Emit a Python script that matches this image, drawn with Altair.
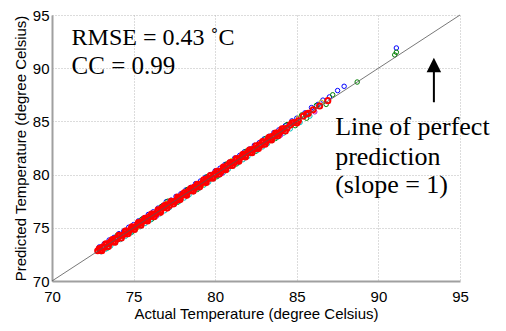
import altair as alt
import pandas as pd

# (actual, predicted) pairs
blue_pts = [(72.9,73.2),(73.2,73.5),(73.5,73.85),(73.8,74.1),(74.1,74.45),(74.4,74.7),(74.7,75.05),(75.0,75.3),
            (75.3,75.65),(75.6,75.9),(75.9,76.25),(76.2,76.5),(76.5,76.85),(76.8,77.1),(77.0,77.45),(77.3,77.6),
            (77.6,77.95),(77.9,78.2),(78.2,78.55),(78.5,78.8),(78.8,79.15),(79.1,79.4),(79.4,79.75),(79.7,80.0),
            (80.0,80.35),(80.3,80.6),(80.6,80.95),(80.9,81.2),(81.2,81.55),(81.5,81.8),(81.8,82.15),(82.1,82.4),
            (82.4,82.75),(82.7,83.0),(83.0,83.35),(83.3,83.6),(83.6,83.95),(83.9,84.2),(84.3,84.6),(84.7,85.05),
            (85.0,85.3),(85.5,85.8),(85.9,86.3),(86.3,86.6),(86.6,87.0),(87.0,87.3),(87.5,87.9),(87.9,88.3),
            (91.1,91.9)]
green_pts = [(73.4,73.1),(74.0,74.3),(74.9,74.6),(75.5,75.8),(76.1,75.8),(76.7,77.0),(77.1,77.5),(77.7,77.4),
             (78.3,78.6),(78.9,78.6),(79.5,79.8),(80.1,79.8),(80.7,81.0),(81.3,81.0),(81.9,82.2),(82.5,82.2),
             (83.1,83.4),(83.7,83.4),(84.4,84.7),(84.9,84.6),(85.3,85.6),(85.6,85.3),(86.2,86.5),(86.8,86.6),
             (87.2,87.5),(88.7,88.7),(91.1,91.5),(91.0,91.25)]
cyan_pts = [(73.0,72.75),(73.3,73.0),(73.6,73.3),(73.9,73.6),(74.2,73.9),(74.5,74.2),(74.8,74.5),(75.1,74.8),
            (75.4,75.1),(75.7,75.4),(76.0,75.7),(76.3,76.0),(76.6,76.3),(76.9,76.6),(77.2,76.9),(77.5,77.2),
            (77.8,77.5),(78.1,77.8),(78.4,78.1),(78.7,78.4),(79.0,78.7),(79.3,79.0),(79.6,79.3),(79.9,79.6),
            (80.2,79.9),(80.5,80.2),(80.8,80.5),(81.1,80.8),(81.4,81.1),(81.7,81.4),(82.0,81.7),(82.3,82.0),
            (82.6,82.3),(82.9,82.6),(83.2,82.9),(83.5,83.2),(83.8,83.5),(84.2,83.9),(84.6,84.3),(85.2,84.9),
            (85.8,85.5)]
magenta_pts = [(76.4,76.1),(80.4,80.1),(84.0,83.7),(86.1,85.9)]
yellow_pts = [(75.2,75.0),(77.0,77.3),(79.2,79.0),(81.0,81.3),(83.4,83.2),(85.1,85.3),(86.5,86.8)]
red_pts = [(72.8,72.85),(72.95,72.9),(73.1,73.2),(73.2,73.15),(73.35,73.45),(73.5,73.5),(73.6,73.7),(73.75,73.7),
           (73.9,74.0),(74.0,73.95),(74.15,74.25),(74.3,74.3),(74.45,74.4),(74.55,74.7),(74.7,74.65),(74.85,74.95),
           (75.0,75.05),(75.1,75.05),(75.25,75.35),(75.4,75.4),(75.55,75.6),(75.65,75.75),(75.8,75.75),(75.95,76.05),
           (76.1,76.1),(76.2,76.3),(76.35,76.3),(76.5,76.6),(76.65,76.6),(76.75,76.85),(76.9,76.9),(77.05,77.15),
           (77.2,77.1),(77.3,77.4),(77.45,77.45),(77.6,77.55),(77.75,77.85),(77.85,77.8),(78.0,78.1),(78.15,78.1),
           (78.3,78.35),(78.4,78.5),(78.55,78.5),(78.7,78.8),(78.85,78.8),(78.95,79.05),(79.1,79.1),(79.25,79.3),
           (79.4,79.35),(79.5,79.6),(79.65,79.65),(79.8,79.75),(79.95,80.05),(80.05,80.0),(80.2,80.3),(80.35,80.3),
           (80.5,80.6),(80.6,80.55),(80.75,80.85),(80.9,80.85),(81.05,81.15),(81.15,81.1),(81.3,81.4),(81.45,81.4),
           (81.6,81.65),(81.7,81.8),(81.85,81.8),(82.0,82.1),(82.15,82.1),(82.25,82.35),(82.4,82.4),(82.55,82.5),
           (82.7,82.8),(82.8,82.75),(82.95,83.05),(83.1,83.05),(83.25,83.35),(83.35,83.3),(83.5,83.6),(83.65,83.6),
           (83.8,83.9),(83.9,83.85),(84.05,84.1),(84.2,84.3),(84.4,84.35),(84.6,84.65),(84.8,84.9),(85.1,85.05),
           (85.4,85.5),(85.7,85.75),(86.0,86.1),(86.4,86.45),(86.9,86.95)]
red_edge_pts = [(72.9,73.05),(73.05,72.85),(73.3,73.5),(73.45,73.25),(73.7,73.9),(73.85,73.65),(74.1,74.3),(74.25,74.05),
                (74.5,74.7),(74.65,74.45),(74.9,75.1),(75.05,74.85),(75.3,75.5),(75.45,75.25),(75.7,75.9),(75.85,75.65),
                (76.1,76.3),(76.25,76.05),(76.5,76.7),(76.65,76.45),(76.9,77.1),(77.05,76.85),(77.3,77.5),(77.45,77.25),
                (77.7,77.9),(77.85,77.65),(78.1,78.3),(78.25,78.05),(78.5,78.7),(78.65,78.45),(78.9,79.1),(79.05,78.85),
                (79.3,79.5),(79.45,79.25),(79.7,79.9),(79.85,79.65),(80.1,80.3),(80.25,80.05),(80.5,80.7),(80.65,80.45),
                (80.9,81.1),(81.05,80.85),(81.3,81.5),(81.45,81.25),(81.7,81.9),(81.85,81.65),(82.1,82.3),(82.25,82.05),
                (82.5,82.7),(82.65,82.45),(82.9,83.1),(83.05,82.85),(83.3,83.5),(83.45,83.25),(83.7,83.9),(83.85,83.65),
                (84.1,84.3),(84.3,84.1),(84.7,84.85),(85.0,84.85),(85.6,85.7)]

other_names = ["blue", "green", "cyan", "magenta", "yellow"]
other_colors = ["#0000ff", "#008000", "#00bfbf", "#bf00bf", "#bfbf00"]
other_pts = [blue_pts, green_pts, cyan_pts, magenta_pts, yellow_pts]

rows = []
for name, pts in zip(other_names, other_pts):
    for a, p in pts:
        rows.append({"actual": a, "pred": p, "series": name})
df = pd.DataFrame(rows)

red_rows = [{"actual": a, "pred": p} for a, p in red_edge_pts + red_pts]
df_red = pd.DataFrame(red_rows)

line_vals = [70, 95]
ticks = [70, 75, 80, 85, 90, 95]

xs = alt.Scale(domain=[70, 95], nice=False)
ys = alt.Scale(domain=[70, 95], nice=False)

xax = alt.Axis(values=ticks, title="Actual Temperature (degree Celsius)", grid=True, ticks=False,
               labelPadding=8, titlePadding=2, labelFlush=False)
yax = alt.Axis(values=ticks, title="Predicted Temperature (degree Celsius)", grid=True, ticks=False,
               labelPadding=3, titlePadding=4, labelFlush=False)

points = alt.Chart(df).mark_point(filled=False, size=20, strokeWidth=1, opacity=1).encode(
    x=alt.X("actual:Q", scale=xs, axis=xax),
    y=alt.Y("pred:Q", scale=ys, axis=yax),
    color=alt.Color("series:N", scale=alt.Scale(domain=other_names, range=other_colors), legend=None),
    order=alt.Order("idx:Q"),
).transform_window(idx="row_number()")

red = alt.Chart(df_red).mark_point(filled=False, size=26, strokeWidth=2, opacity=1, color="#ff0000").encode(
    x=alt.X("actual:Q", scale=xs), y=alt.Y("pred:Q", scale=ys))

line_df = pd.DataFrame({"x": line_vals, "y": line_vals})
line = alt.Chart(line_df).mark_line(color="#555555", strokeWidth=0.8).encode(
    x=alt.X("x:Q", scale=xs), y=alt.Y("y:Q", scale=ys))

# annotations
text_lines = ["RMSE = 0.43 ˚C", "CC = 0.99", "Line of perfect", "prediction", "(slope = 1)"]
text_x = [71.2, 71.2, 87.35, 87.35, 87.35]
text_y = [92.18, 89.45, 83.72, 80.9, 78.27]
text_size = [24, 25, 26, 26, 26]
txt_df = pd.DataFrame({"t": text_lines, "x": text_x, "y": text_y, "s": text_size})
texts = alt.Chart(txt_df).mark_text(align="left", baseline="alphabetic", font="Liberation Serif",
                                    color="black").encode(
    x=alt.X("x:Q", scale=xs), y=alt.Y("y:Q", scale=ys), text="t:N",
    size=alt.Size("s:Q", scale=None, legend=None))

arrow_x = [93.4]
shaft_y = [86.8]
shaft_y2 = [89.7]
head_y = [90.3]
arr_df = pd.DataFrame({"x": arrow_x, "y": shaft_y, "y2": shaft_y2, "hy": head_y})
shaft = alt.Chart(arr_df).mark_rule(color="black", strokeWidth=2).encode(
    x=alt.X("x:Q", scale=xs), y=alt.Y("y:Q", scale=ys), y2="y2:Q")
head = alt.Chart(arr_df).mark_point(shape="M0,-1L-1,1L1,1Z", filled=True, color="black", size=210,
                                    opacity=1).encode(
    x=alt.X("x:Q", scale=xs), y=alt.Y("hy:Q", scale=ys))

chart = alt.layer(points, red, line, texts, shaft, head).properties(
    width=408, height=266,
    autosize=alt.AutoSizeParams(type="none"),
    padding={"left": 52, "top": 15, "right": 46, "bottom": 50},
    background="white",
).configure_view(stroke=None).configure_axis(
    labelFont="Liberation Sans", titleFont="Liberation Sans", labelFontSize=15, titleFontSize=15,
    labelColor="black", titleColor="black", titleFontWeight="normal",
    domainColor="#a0a0a0", domainWidth=2,
    gridColor="#b8b8b8", gridDash=[1, 2], gridWidth=1,
)

chart.save("out.html", embed_options={"renderer": "svg", "actions": False})
